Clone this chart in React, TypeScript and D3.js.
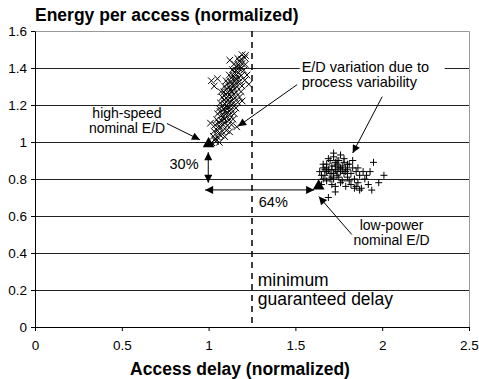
import { useEffect, useRef } from 'react';
import * as d3 from 'd3';

// axis ticks
const xTicks = [0, 0.5, 1, 1.5, 2, 2.5];
const yTicks = [0, 0.2, 0.4, 0.6, 0.8, 1, 1.2, 1.4, 1.6];

// minimum guaranteed delay (vertical dashed line)
const minGuaranteedDelay = 1.25;

// high-speed cells under process variability ('x' markers)
const highSpeedPoints: [number, number][] = [
  [1.018, 0.996], [1.041, 1.003], [1.062, 0.998],
  [1.027, 1.031], [1.052, 1.026], [1.071, 1.034], [1.093, 1.029],
  [1.031, 1.058], [1.049, 1.064], [1.078, 1.057], [1.102, 1.062], [1.121, 1.055],
  [1.038, 1.092], [1.061, 1.087], [1.083, 1.094], [1.108, 1.088], [1.132, 1.093],
  [1.047, 1.121], [1.072, 1.117], [1.089, 1.124], [1.118, 1.119], [1.141, 1.123],
  [1.052, 1.152], [1.079, 1.148], [1.101, 1.155], [1.123, 1.149], [1.148, 1.153],
  [1.061, 1.182], [1.088, 1.178], [1.108, 1.184], [1.131, 1.179], [1.158, 1.183],
  [1.068, 1.211], [1.092, 1.207], [1.119, 1.213], [1.141, 1.209], [1.168, 1.214],
  [1.079, 1.242], [1.101, 1.238], [1.128, 1.244], [1.152, 1.239], [1.178, 1.243],
  [1.088, 1.271], [1.111, 1.267], [1.132, 1.273], [1.158, 1.268], [1.187, 1.272],
  [1.092, 1.302], [1.118, 1.298], [1.141, 1.304], [1.163, 1.299], [1.192, 1.303],
  [1.101, 1.331], [1.128, 1.327], [1.152, 1.333], [1.179, 1.328], [1.208, 1.334],
  [1.119, 1.362], [1.142, 1.358], [1.161, 1.364], [1.188, 1.359],
  [1.138, 1.391], [1.159, 1.387], [1.181, 1.393], [1.202, 1.388],
  [1.148, 1.422], [1.171, 1.418], [1.192, 1.424], [1.211, 1.419],
  [1.168, 1.452], [1.189, 1.448], [1.208, 1.455],
  // inner fill
  [1.036, 1.015], [1.058, 1.045], [1.069, 1.076], [1.094, 1.106], [1.059, 1.104],
  [1.083, 1.136], [1.108, 1.138], [1.066, 1.165], [1.097, 1.168], [1.119, 1.166],
  [1.081, 1.195], [1.104, 1.197], [1.129, 1.196], [1.089, 1.226], [1.113, 1.228],
  [1.136, 1.225], [1.098, 1.257], [1.121, 1.255], [1.145, 1.258], [1.103, 1.286],
  [1.127, 1.284], [1.149, 1.287], [1.112, 1.316], [1.136, 1.314], [1.158, 1.317],
  [1.131, 1.346], [1.154, 1.344], [1.172, 1.347], [1.149, 1.376], [1.171, 1.374],
  [1.161, 1.405], [1.182, 1.407], [1.178, 1.436],
  // strays
  [1.016, 1.331], [1.032, 1.302], [1.051, 1.342], [1.122, 1.442], [1.221, 1.362],
  [1.232, 1.312], [1.193, 1.472], [1.212, 1.468], [1.011, 1.102], [1.162, 1.082],
  [1.193, 1.222], [1.071, 1.272],
];

// low-power cells under process variability ('+' markers)
const lowPowerPoints: [number, number][] = [
  [1.64, 0.84], [1.66, 0.86], [1.67, 0.82], [1.68, 0.88], [1.69, 0.85],
  [1.70, 0.83], [1.70, 0.90], [1.71, 0.87], [1.72, 0.80], [1.72, 0.92],
  [1.73, 0.85], [1.74, 0.88], [1.74, 0.82], [1.75, 0.86], [1.75, 0.90],
  [1.76, 0.84], [1.77, 0.87], [1.77, 0.79], [1.78, 0.83], [1.78, 0.89],
  [1.79, 0.86], [1.80, 0.81], [1.80, 0.85], [1.81, 0.88], [1.82, 0.83],
  [1.83, 0.86], [1.84, 0.80], [1.85, 0.84], [1.86, 0.78], [1.87, 0.82],
  [1.68, 0.79], [1.66, 0.80], [1.71, 0.77], [1.73, 0.76], [1.76, 0.78],
  [1.79, 0.76], [1.82, 0.77], [1.84, 0.75], [1.88, 0.75], [1.90, 0.80],
  [1.92, 0.77], [1.95, 0.89], [2.01, 0.82], [1.98, 0.78], [1.94, 0.74],
  [1.69, 0.70], [1.73, 0.73], [1.65, 0.77], [1.76, 0.93], [1.72, 0.94],
  [1.69, 0.91], [1.78, 0.91], [1.81, 0.79], [1.75, 0.81], [1.70, 0.80],
  [1.67, 0.85], [1.83, 0.90], [1.86, 0.86], [1.89, 0.84], [1.91, 0.82],
  [1.74, 0.84], [1.76, 0.86], [1.72, 0.83], [1.79, 0.84], [1.73, 0.87],
  [1.65, 0.82], [1.68, 0.84], [1.71, 0.85], [1.73, 0.89], [1.77, 0.85],
  [1.68, 0.86], [1.71, 0.81], [1.74, 0.90], [1.66, 0.88], [1.80, 0.88],
  [1.93, 0.84], [1.85, 0.76], [1.87, 0.74],
];

// nominal design points (high-speed, low-power)
const nominalPoints: [number, number][] = [
  [1.0, 0.99],
  [1.634, 0.762],
];

export default function App() {
  const svgRef = useRef<SVGSVGElement>(null);

  useEffect(() => {
    if (!svgRef.current) return;
    const svg = d3.select(svgRef.current);
    svg.selectAll('*').remove();

    const width = 479;
    const height = 379;
    const margin = { top: 31, right: 10, bottom: 52, left: 35 };
    const font = "'Liberation Sans', Arial, Helvetica, sans-serif";

    const x = d3.scaleLinear().domain([0, 2.5]).range([margin.left, width - margin.right]);
    const y = d3.scaleLinear().domain([0, 1.6]).range([height - margin.bottom, margin.top]);

    svg.append('rect').attr('width', width).attr('height', height).attr('fill', '#fff');

    // arrowhead marker
    const defs = svg.append('defs');
    defs.append('marker')
      .attr('id', 'ah')
      .attr('viewBox', '0 0 10 10')
      .attr('refX', 10)
      .attr('refY', 5)
      .attr('markerWidth', 10)
      .attr('markerHeight', 8)
      .attr('markerUnits', 'userSpaceOnUse')
      .attr('orient', 'auto-start-reverse')
      .append('path')
      .attr('d', 'M0,0L10,5L0,10Z')
      .attr('fill', '#000');

    // gridlines
    svg.append('g')
      .selectAll('line')
      .data(yTicks.filter(d => d > 0 && d < 1.6))
      .join('line')
      .attr('x1', x(0))
      .attr('x2', x(2.5))
      .attr('y1', d => Math.round(y(d)) + 0.5)
      .attr('y2', d => Math.round(y(d)) + 0.5)
      .attr('stroke', '#222')
      .attr('stroke-width', 1);

    // plot border (top/right)
    svg.append('path')
      .attr('d', `M${x(0)},${Math.round(y(1.6)) + 0.5}H${Math.round(x(2.5)) + 0.5}V${y(0)}`)
      .attr('fill', 'none')
      .attr('stroke', '#999')
      .attr('stroke-width', 1);

    // "E/D variation" text box covers the gridline
    svg.append('rect')
      .attr('x', x(1.525))
      .attr('y', y(1.465))
      .attr('width', x(2.36) - x(1.525))
      .attr('height', y(1.285) - y(1.465))
      .attr('fill', '#fff');

    // minimum guaranteed delay
    svg.append('line')
      .attr('x1', x(minGuaranteedDelay))
      .attr('x2', x(minGuaranteedDelay))
      .attr('y1', y(1.6))
      .attr('y2', y(0))
      .attr('stroke', '#000')
      .attr('stroke-width', 1.5)
      .attr('stroke-dasharray', '6,5');

    // 'x' markers
    const s = 3.3;
    svg.append('g')
      .selectAll('path')
      .data(highSpeedPoints)
      .join('path')
      .attr('d', d => {
        const cx = x(d[0]), cy = y(d[1]);
        return `M${cx - s},${cy - s}L${cx + s},${cy + s}M${cx - s},${cy + s}L${cx + s},${cy - s}`;
      })
      .attr('stroke', '#000')
      .attr('stroke-width', 1)
      .attr('fill', 'none');

    // '+' markers
    const p = 3.5;
    svg.append('g')
      .selectAll('path')
      .data(lowPowerPoints)
      .join('path')
      .attr('d', d => {
        const cx = x(d[0]), cy = y(d[1]);
        return `M${cx - p},${cy}H${cx + p}M${cx},${cy - p}V${cy + p}`;
      })
      .attr('stroke', '#000')
      .attr('stroke-width', 1)
      .attr('fill', 'none');

    // nominal triangles
    svg.append('g')
      .selectAll('path')
      .data(nominalPoints)
      .join('path')
      .attr('transform', d => `translate(${x(d[0])},${y(d[1])})`)
      .attr('d', d3.symbol(d3.symbolTriangle, 60)())
      .attr('fill', '#000');

    // annotation arrows (data units)
    const arrows = [
      { from: [0.76, 1.10], to: [0.95, 1.012], both: false },
      { from: [1.51, 1.31], to: [1.17, 1.085], both: false },
      { from: [2.0, 1.245], to: [1.83, 0.94], both: false },
      { from: [1.825, 0.50], to: [1.635, 0.705], both: false },
      { from: [0.998, 0.945], to: [0.998, 0.78], both: true },
      { from: [0.98, 0.741], to: [1.608, 0.741], both: true },
    ];
    svg.append('g')
      .selectAll('line')
      .data(arrows)
      .join('line')
      .attr('x1', d => x(d.from[0]))
      .attr('y1', d => y(d.from[1]))
      .attr('x2', d => x(d.to[0]))
      .attr('y2', d => y(d.to[1]))
      .attr('stroke', '#000')
      .attr('stroke-width', 1)
      .attr('marker-end', 'url(#ah)')
      .attr('marker-start', d => (d.both ? 'url(#ah)' : null));

    // annotation labels
    const labels = [
      { text: 'high-speed', at: [0.53, 1.13], anchor: 'middle', size: 14 },
      { text: 'nominal E/D', at: [0.53, 1.046], anchor: 'middle', size: 14 },
      { text: '30%', at: [0.775, 0.853], anchor: 'start', size: 14.5 },
      { text: 'E/D variation due to', at: [1.536, 1.378], anchor: 'start', size: 14.5 },
      { text: 'process variability', at: [1.536, 1.296], anchor: 'start', size: 14.5 },
      { text: '64%', at: [1.289, 0.649], anchor: 'start', size: 14.5 },
      { text: 'low-power', at: [2.054, 0.527], anchor: 'middle', size: 14 },
      { text: 'nominal E/D', at: [2.054, 0.443], anchor: 'middle', size: 14 },
      { text: 'minimum', at: [1.283, 0.222], anchor: 'start', size: 17.5 },
      { text: 'guaranteed delay', at: [1.283, 0.117], anchor: 'start', size: 17.5 },
    ];
    svg.append('g')
      .selectAll('text')
      .data(labels)
      .join('text')
      .attr('x', d => x(d.at[0]))
      .attr('y', d => y(d.at[1]))
      .attr('text-anchor', d => d.anchor)
      .style('font-family', font)
      .style('font-size', d => `${d.size}px`)
      .attr('fill', '#000')
      .text(d => d.text);

    // axes
    const xAxis = svg.append('g')
      .attr('transform', `translate(0,${y(0)})`)
      .call(d3.axisBottom(x).tickValues(xTicks).tickSize(4).tickSizeOuter(0).tickPadding(9).tickFormat(d3.format('')));
    const yAxis = svg.append('g')
      .attr('transform', `translate(${x(0)},0)`)
      .call(d3.axisLeft(y).tickValues(yTicks).tickSize(4).tickSizeOuter(0).tickPadding(4).tickFormat(d3.format('')));
    [xAxis, yAxis].forEach(a => {
      a.selectAll('path, line').attr('stroke', '#000');
      a.selectAll('text')
        .style('font-family', font)
        .style('font-size', '13.5px')
        .attr('fill', '#000');
    });

    // titles
    svg.append('text')
      .attr('x', x(0))
      .attr('y', 21)
      .style('font-family', font)
      .style('font-size', '17.5px')
      .style('font-weight', 'bold')
      .text('Energy per access (normalized)');

    svg.append('text')
      .attr('x', 240)
      .attr('y', 375)
      .attr('text-anchor', 'middle')
      .style('font-family', font)
      .style('font-size', '17.5px')
      .style('font-weight', 'bold')
      .text('Access delay (normalized)');
  }, []);

  return (
    <svg
      ref={svgRef}
      width={479}
      height={379}
      style={{ position: 'absolute', left: 0, top: 0, display: 'block' }}
    />
  );
}
